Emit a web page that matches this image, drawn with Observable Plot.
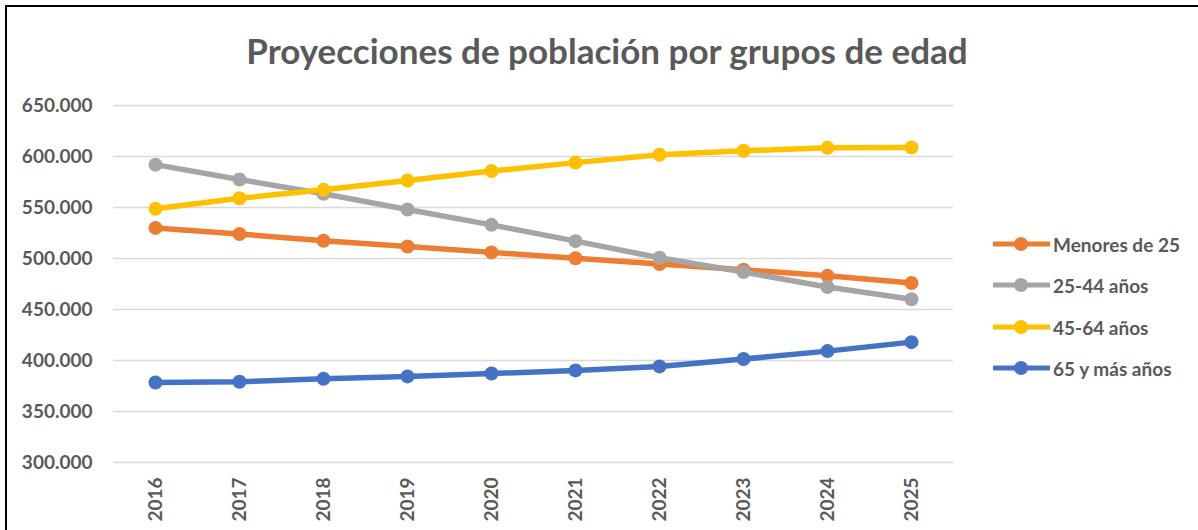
<!DOCTYPE html>
<html>
<head>
<meta charset="utf-8">
<script src="https://cdn.jsdelivr.net/npm/d3@7"></script>
<script src="https://cdn.jsdelivr.net/npm/@observablehq/plot@0.6"></script>
<style>
  html, body { margin: 0; padding: 0; background: #fff; }
  #wrap { position: relative; width: 1198px; height: 530px; overflow: hidden; font-family: Lato, "Open Sans", sans-serif; }
  #frame { position: absolute; left: 5px; top: 5px; width: 1300px; height: 600px; border-left: 2px solid #000; border-top: 2px solid #000; box-sizing: border-box; }
  #title { position: absolute; left: 0; width: 1214px; top: 28px; line-height: 44px; text-align: center; font-weight: 700; font-size: 35px; color: #595959; }
  #chart { position: absolute; left: 0; top: 0; }
  .leg { position: absolute; left: 993px; height: 20px; display: flex; align-items: center; font-weight: 700; font-size: 19px; color: #595959; }
  .leg svg { margin-right: 3px; }
</style>
</head>
<body>
<div id="wrap">
  <div id="frame"></div>
  <div id="chart"></div>
  <div id="title">Proyecciones de población por grupos de edad</div>
</div>
<script>
const years = ["2016","2017","2018","2019","2020","2021","2022","2023","2024","2025"];
const seriesNames = ["Menores de 25", "25-44 años", "45-64 años", "65 y más años"];
const seriesColors = ["#ED7D31", "#A5A5A5", "#FFC000", "#4472C4"];
const menores25 = [530000, 524000, 517400, 511800, 506000, 500200, 494500, 489000, 483000, 476000];
const de25a44   = [592000, 577500, 563500, 548000, 533000, 517000, 500700, 486700, 472000, 460000];
const de45a64   = [548700, 559000, 567300, 576500, 585700, 594000, 601700, 605600, 608500, 608800];
const mas65     = [378500, 379200, 382000, 384400, 387200, 390300, 394200, 401400, 409200, 418000];
const yTicks = [300000, 350000, 400000, 450000, 500000, 550000, 600000, 650000];

const allValues = [menores25, de25a44, de45a64, mas65];
const data = [];
allValues.forEach((vals, si) => {
  vals.forEach((v, i) => data.push({series: seriesNames[si], year: years[i], value: v}));
});
const fmt = v => d3.format(",")(v).replace(/,/g, ".");

const marks = [
  Plot.ruleY(yTicks, {stroke: "#D9D9D9", strokeWidth: 1.5})
];
seriesNames.forEach((name, si) => {
  const d = data.filter(r => r.series === name);
  marks.push(Plot.line(d, {x: "year", y: "value", stroke: seriesColors[si], strokeWidth: 5.5, strokeLinejoin: "round"}));
  marks.push(Plot.dot(d, {x: "year", y: "value", fill: seriesColors[si], r: 7}));
});
marks.push(Plot.axisY({ticks: yTicks, tickFormat: fmt, tickSize: 0, tickPadding: 21, fontSize: 19, fontWeight: 700, fill: "#595959"}));
marks.push(Plot.axisX({tickSize: 0, tickRotate: -90, tickPadding: 15, fontSize: 19, fontWeight: 700, fill: "#595959"}));

const chart = Plot.plot({
  width: 1198,
  height: 530,
  marginLeft: 113,
  marginRight: 245,
  marginTop: 105,
  marginBottom: 68,
  style: {fontFamily: "Lato, 'Open Sans', sans-serif", color: "#595959", background: "transparent"},
  x: {type: "point", domain: years, padding: 0.5, label: null},
  y: {domain: [300000, 650000], label: null},
  marks
});
document.getElementById("chart").appendChild(chart);

const legendY = [234, 275, 317, 358];
seriesNames.forEach((name, si) => {
  const div = document.createElement("div");
  div.className = "leg";
  div.style.top = legendY[si] + "px";
  div.innerHTML = `<svg width="57" height="20"><line x1="1" x2="56" y1="10" y2="10" stroke="${seriesColors[si]}" stroke-width="5" stroke-linecap="round"/><circle cx="28" cy="10" r="7" fill="${seriesColors[si]}"/></svg><span>${name}</span>`;
  document.getElementById("wrap").appendChild(div);
});
</script>
</body>
</html>
